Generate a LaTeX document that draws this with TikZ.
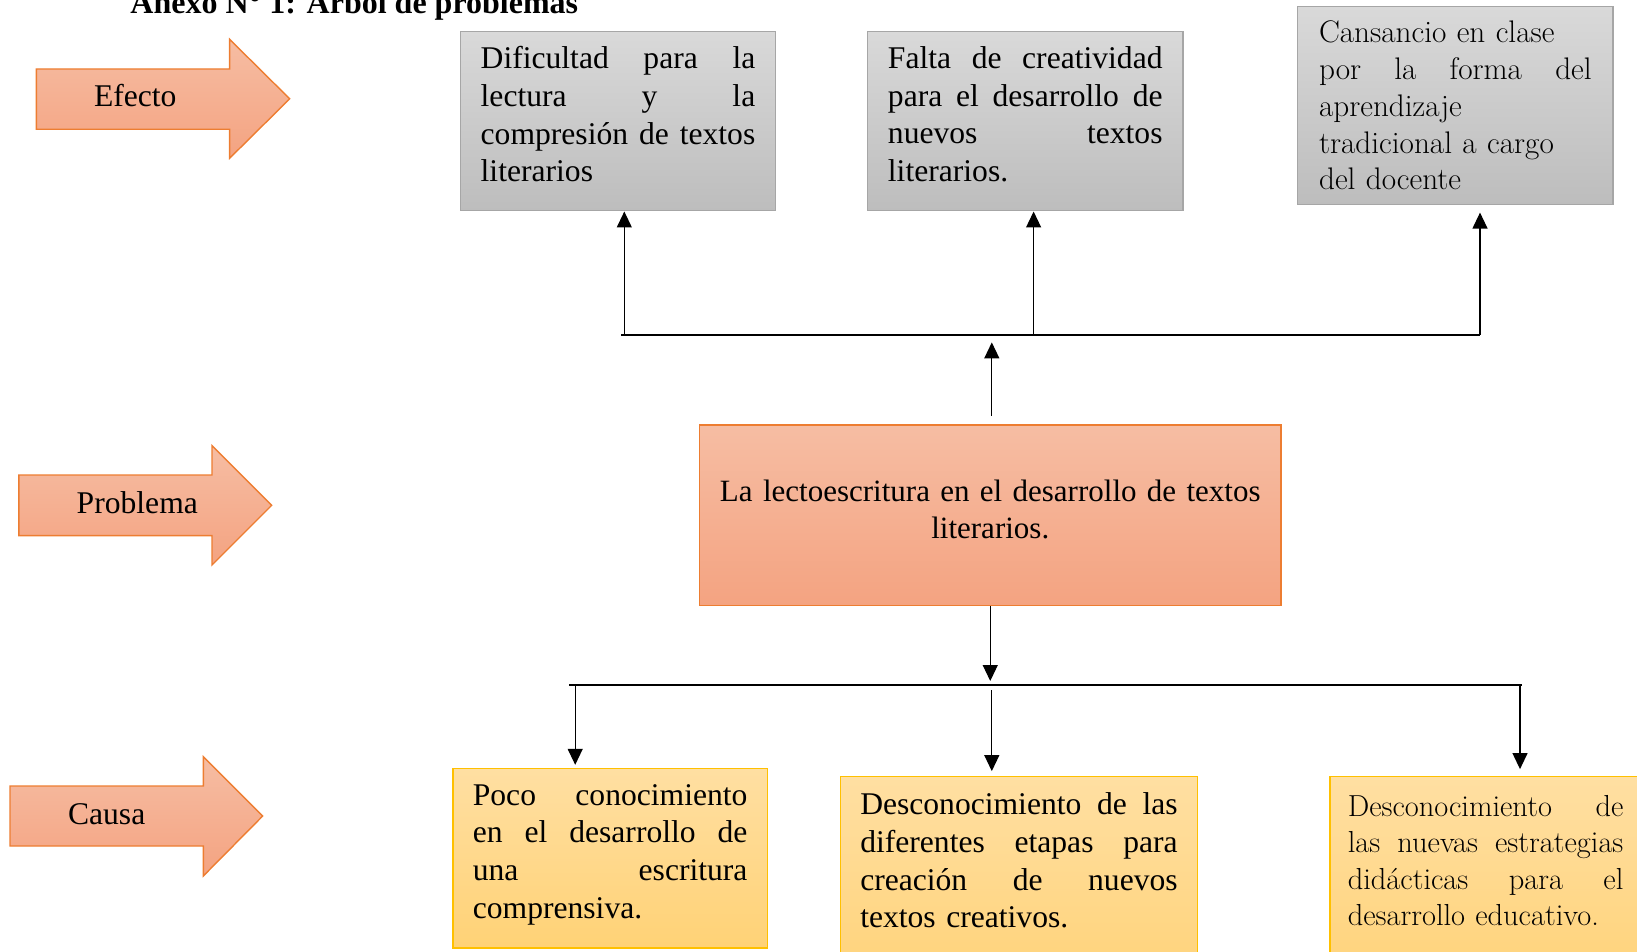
\documentclass[tikz,border=0pt]{standalone}
\usepackage{fontspec}
\setmainfont{Liberation Serif}
\newfontfamily\lmfont{Latin Modern Roman}
\usetikzlibrary{arrows.meta}

\definecolor{grisborde}{HTML}{A6A6A6}
\definecolor{grisarriba}{HTML}{D9D9D9}
\definecolor{grisabajo}{HTML}{BDBDBD}
\definecolor{naranjaborde}{HTML}{ED7D31}
\definecolor{naranjaarriba}{HTML}{F6BDA3}
\definecolor{naranjaabajo}{HTML}{F4A381}
\definecolor{amarilloborde}{HTML}{FFC000}
\definecolor{amarilloarriba}{HTML}{FFDFA2}
\definecolor{amarilloabajo}{HTML}{FFD276}

% espacio justificado entre palabras
\newcommand{\jsp}{\nobreak\hfill\nobreak}
\newcommand{\lastpad}[1]{\rule[-#1]{0pt}{0pt}}

\begin{document}
\begin{tikzpicture}[x=0.5pt,y=-0.5pt,
    efbox/.style={draw=grisborde, line width=0.6pt, top color=grisarriba, bottom color=grisabajo, align=left, inner sep=0pt, font=\fontsize{15.8pt}{18.8pt}\selectfont},
    pbbox/.style={draw=naranjaborde, line width=0.7pt, top color=naranjaarriba, bottom color=naranjaabajo, align=center, inner sep=0pt, font=\fontsize{15.5pt}{18.4pt}\selectfont},
    cabox/.style={draw=amarilloborde, line width=0.6pt, top color=amarilloarriba, bottom color=amarilloabajo, align=left, inner sep=0pt, font=\fontsize{15.8pt}{18.8pt}\selectfont},
    labarrow/.style={draw=naranjaborde, line width=0.7pt, top color=naranjaarriba, bottom color=naranjaabajo},
    labtext/.style={anchor=base, inner sep=0pt, font=\fontsize{15.8pt}{18.8pt}\selectfont},
    linea/.style={line width=0.6pt},
    flecha/.style={-{Triangle[length=8pt,width=7.5pt]}, line width=0.6pt}]
    \useasboundingbox (0,0) rectangle (1637,952);

    \node[anchor=base west, inner sep=0pt, font=\bfseries\fontsize{16pt}{19pt}\selectfont] (titulo) at (130,14) {Anexo N° 1: Árbol de problemas};

    % flechas de la izquierda
    \draw[labarrow] (36.4,69) -- (229.6,69) -- (229.6,39.3) -- (289.7,98.8) -- (229.6,158.3) -- (229.6,129.3) -- (36.4,129.3) -- cycle;
    \node[labtext] (efecto) at (135.3,107) {Efecto};
    \draw[labarrow] (18.8,475) -- (212,475) -- (212,445.7) -- (271.7,505.3) -- (212,565) -- (212,535.6) -- (18.8,535.6) -- cycle;
    \node[labtext] (problema) at (137.3,513) {Problema};
    \draw[labarrow] (10,786) -- (203.3,786) -- (203.3,756.7) -- (262.7,816) -- (203.3,876) -- (203.3,846) -- (10,846) -- cycle;
    \node[labtext] (causa) at (106.7,824) {Causa};

    % efectos
    \node[efbox, text width=137.3pt, minimum width=157.65pt, minimum height=89.8pt] (ef1) at (618,121.1)
        {Dificultad\jsp para\jsp la\\ lectura\jsp y\jsp la\\ compresión\jsp de\jsp textos\\ literarios\lastpad{7pt}};
    \node[efbox, text width=137.3pt, minimum width=157.65pt, minimum height=89.8pt] (ef2) at (1025.25,121.1)
        {Falta\jsp de\jsp creatividad\\ para\jsp el\jsp desarrollo\jsp de\\ nuevos\jsp textos\\ literarios.\lastpad{7pt}};
    \node[efbox, text width=136.3pt, minimum width=157.65pt, minimum height=99.15pt, font=\lmfont\fontsize{15.6pt}{18.4pt}\selectfont] (ef3) at (1455.35,105.45)
        {Cansancio en clase\\ por\jsp la\jsp forma\jsp del\\ aprendizaje\\ tradicional a cargo\\ del docente};

    % problema
    \node[pbbox, text width=285pt, minimum width=290.75pt, minimum height=90.25pt] (pb) at (990.25,515.25)
        {La lectoescritura en el desarrollo de textos\\ literarios.\lastpad{6pt}};

    % causas
    \node[cabox, text width=137.3pt, minimum width=157.15pt, minimum height=89.8pt] (ca1) at (610.15,858.2)
        {Poco\jsp conocimiento\\ en\jsp el\jsp desarrollo\jsp de\\ una\jsp escritura\\ comprensiva.\lastpad{7pt}};
    \node[cabox, text width=158.7pt, minimum width=178.55pt, minimum height=111.65pt] (ca2) at (1018.95,888.35)
        {Desconocimiento\jsp de\jsp las\\ diferentes\jsp etapas\jsp para\\ creación\jsp de\jsp nuevos\\ textos creativos.\lastpad{28pt}};
    \node[cabox, text width=137.8pt, minimum width=155.6pt, minimum height=111.65pt, font=\lmfont\fontsize{15.2pt}{18.25pt}\selectfont] (ca3) at (1485.6,888.35)
        {Desconocimiento\jsp de\\ las\jsp nuevas\jsp estrategias\\ didácticas\jsp para\jsp el\\ desarrollo educativo.\lastpad{28pt}};

    % conectores de arriba
    \coordinate (tl) at (621,335);
    \coordinate (tr) at (1480,335);
    \coordinate (u1) at (624.3,335);
    \coordinate (u2) at (1033.6,335);
    \coordinate (u3) at (1480,335);
    \coordinate (pin) at (991.8,415.5);
    \coordinate (pout) at (991.8,342.4);
    \draw[linea] (tl) -- (tr);
    \draw[flecha] (u1) -- (u1 |- ef1.south);
    \draw[flecha] (u2) -- (u2 |- ef2.south);
    \draw[flecha, shorten >=3.7pt] (u3) -- (u3 |- ef3.south);
    \draw[flecha] (pin) -- (pout);

    % conectores de abajo
    \coordinate (bl) at (569,685);
    \coordinate (br) at (1522,685);
    \coordinate (pdown) at (990.25,681);
    \coordinate (d1) at (575.2,685);
    \coordinate (d2) at (991.8,690);
    \coordinate (d3) at (1520,685);
    \draw[linea] (bl) -- (br);
    \draw[flecha] (pb.south) -- (pdown);
    \draw[flecha, shorten >=1.5pt] (d1) -- (d1 |- ca1.north);
    \draw[flecha, shorten >=2.5pt] (d2) -- (d2 |- ca2.north);
    \draw[flecha, shorten >=3.5pt] (d3) -- (d3 |- ca3.north);
\end{tikzpicture}
\end{document}
